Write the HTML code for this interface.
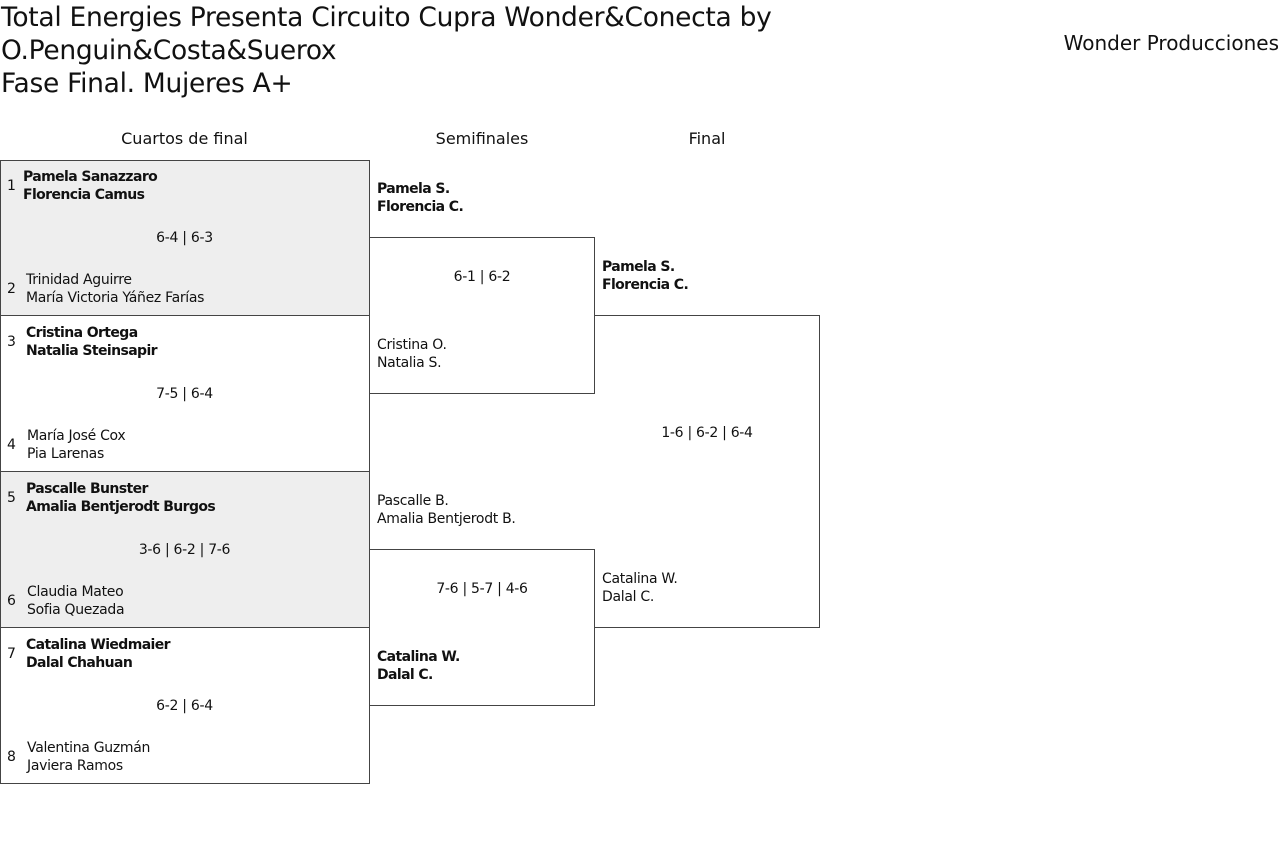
<!DOCTYPE html>
<html><head><meta charset="utf-8"><style>
body{margin:0;width:1280px;height:850px;background:#fff;font-family:"DejaVu Sans","Liberation Sans",sans-serif;color:#111;position:relative;overflow:hidden}
.a{position:absolute;white-space:nowrap}
.t{font-size:26.5px;line-height:33px;left:1px;top:1px;letter-spacing:-0.3px}
.h{font-size:16px;text-align:center}
.box{position:absolute;border:1px solid #444;box-sizing:border-box}
.g{background:#eee}
.n{font-size:14px;line-height:18px;letter-spacing:-0.3px}
.b{font-weight:bold;letter-spacing:-0.6px}
.s{font-size:14px;line-height:18px;text-align:center;letter-spacing:-0.3px}
</style></head><body>
<div class="a t">Total Energies Presenta Circuito Cupra Wonder&amp;Conecta by<br>O.Penguin&amp;Costa&amp;Suerox<br>Fase Final. Mujeres A+</div>
<div class="a" style="right:1px;top:31px;font-size:20px">Wonder Producciones</div>
<div class="a h" style="left:0;width:369px;top:129px">Cuartos de final</div>
<div class="a h" style="left:369px;width:226px;top:129px">Semifinales</div>
<div class="a h" style="left:594px;width:226px;top:129px">Final</div>

<div class="box g" style="left:0;top:160px;width:370px;height:156px"></div>
<div class="box" style="left:0;top:315px;width:370px;height:157px"></div>
<div class="box g" style="left:0;top:471px;width:370px;height:157px"></div>
<div class="box" style="left:0;top:627px;width:370px;height:157px"></div>
<div class="box" style="left:369px;top:237px;width:226px;height:157px"></div>
<div class="box" style="left:369px;top:549px;width:226px;height:157px"></div>
<div class="box" style="left:594px;top:315px;width:226px;height:313px;border-left:none"></div>

<div class="a n" style="left:7px;top:177px">1</div>
<div class="a n b" style="left:23px;top:168px">Pamela Sanazzaro<br>Florencia Camus</div>
<div class="a s" style="left:0;width:369px;top:229px">6-4 | 6-3</div>
<div class="a n" style="left:7px;top:280px">2</div>
<div class="a n" style="left:26px;top:271px">Trinidad Aguirre<br>María Victoria Yáñez Farías</div>

<div class="a n" style="left:7px;top:333px">3</div>
<div class="a n b" style="left:26px;top:324px">Cristina Ortega<br>Natalia Steinsapir</div>
<div class="a s" style="left:0;width:369px;top:385px">7-5 | 6-4</div>
<div class="a n" style="left:7px;top:436px">4</div>
<div class="a n" style="left:27px;top:427px">María José Cox<br>Pia Larenas</div>

<div class="a n" style="left:7px;top:489px">5</div>
<div class="a n b" style="left:26px;top:480px">Pascalle Bunster<br>Amalia Bentjerodt Burgos</div>
<div class="a s" style="left:0;width:369px;top:541px">3-6 | 6-2 | 7-6</div>
<div class="a n" style="left:7px;top:592px">6</div>
<div class="a n" style="left:27px;top:583px">Claudia Mateo<br>Sofia Quezada</div>

<div class="a n" style="left:7px;top:645px">7</div>
<div class="a n b" style="left:26px;top:636px">Catalina Wiedmaier<br>Dalal Chahuan</div>
<div class="a s" style="left:0;width:369px;top:697px">6-2 | 6-4</div>
<div class="a n" style="left:7px;top:748px">8</div>
<div class="a n" style="left:27px;top:739px">Valentina Guzmán<br>Javiera Ramos</div>

<div class="a n b" style="left:377px;top:180px">Pamela S.<br>Florencia C.</div>
<div class="a s" style="left:369px;width:226px;top:268px">6-1 | 6-2</div>
<div class="a n" style="left:377px;top:336px">Cristina O.<br>Natalia S.</div>
<div class="a n" style="left:377px;top:492px">Pascalle B.<br>Amalia Bentjerodt B.</div>
<div class="a s" style="left:369px;width:226px;top:580px">7-6 | 5-7 | 4-6</div>
<div class="a n b" style="left:377px;top:648px">Catalina W.<br>Dalal C.</div>

<div class="a n b" style="left:602px;top:258px">Pamela S.<br>Florencia C.</div>
<div class="a s" style="left:594px;width:226px;top:424px">1-6 | 6-2 | 6-4</div>
<div class="a n" style="left:602px;top:570px">Catalina W.<br>Dalal C.</div>
</body></html>
